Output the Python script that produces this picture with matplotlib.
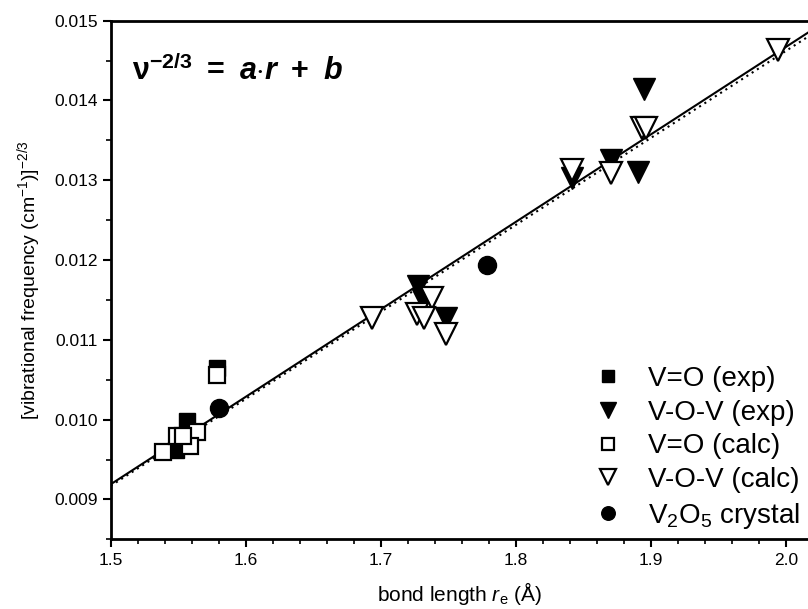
import matplotlib
matplotlib.use("Agg")
import matplotlib.pyplot as plt
import numpy as np

plt.rcParams['font.family'] = ['Liberation Sans', 'DejaVu Sans']
plt.rcParams['mathtext.fontset'] = 'custom'
plt.rcParams['mathtext.rm'] = 'Liberation Sans'
plt.rcParams['mathtext.bf'] = 'Liberation Sans:bold'
plt.rcParams['mathtext.it'] = 'Liberation Sans:italic:bold'
plt.rcParams['mathtext.sf'] = 'Liberation Sans:italic'

# data
vo_exp_r = [1.579, 1.5567, 1.5483, 1.5526]
vo_exp_y = [0.01065, 0.00998, 0.00962, 0.00973]

vov_exp_r = [1.895, 1.890, 1.870, 1.8415, 1.7277, 1.7312, 1.748]
vov_exp_y = [0.01415, 0.01311, 0.01326, 0.01303, 0.01167, 0.01150, 0.01128]

vo_calc_r = [1.579, 1.5637, 1.5385, 1.5489, 1.5587, 1.5538]
vo_calc_y = [0.01056, 0.00984, 0.00959, 0.00980, 0.00967, 0.00980]

vov_calc_r = [1.994, 1.893, 1.896, 1.8415, 1.870, 1.6937, 1.7377, 1.7266, 1.7322, 1.748]
vov_calc_y = [0.01463, 0.01366, 0.01366, 0.01313, 0.01309, 0.01128, 0.01153, 0.01132, 0.01128, 0.01107]

crystal_r = [1.7788, 1.5802]
crystal_y = [0.01194, 0.01015]

# linear fits  v^-2/3 = a*r + b
fit_solid = (0.01097, -0.007265)
fit_dotted = (0.01091, -0.007195)
r_range = np.array([1.5, 2.016])

fig = plt.figure(figsize=(8.08, 6.09), dpi=100)
ax = fig.add_axes([0.137, 0.1144, 0.863, 0.8516])

ax.plot(r_range, fit_solid[0] * r_range + fit_solid[1], color='black', lw=1.5, zorder=1)
ax.plot(r_range, fit_dotted[0] * r_range + fit_dotted[1], color='black', lw=1.5,
        ls=(0, (1, 2)), zorder=1)

ax.plot(vo_exp_r, vo_exp_y, 's', ms=11.5, color='black', mec='black', label='V=O (exp)', zorder=3)
ax.plot(vov_exp_r, vov_exp_y, 'v', ms=15.5, color='black', mec='black', label='V-O-V (exp)', zorder=3)
ax.plot(vo_calc_r, vo_calc_y, 's', ms=11.5, mfc='white', mec='black', mew=1.6, label='V=O (calc)', zorder=4)
ax.plot(vov_calc_r, vov_calc_y, 'v', ms=15.5, mfc='white', mec='black', mew=1.6, label='V-O-V (calc)', zorder=4)
ax.plot(crystal_r, crystal_y, 'o', ms=13, color='black', label='V$_2$O$_5$ crystal', zorder=5)

ax.set_xlim(1.5, 2.016)
ax.set_ylim(0.0085, 0.015)
ax.set_xticks([1.5, 1.6, 1.7, 1.8, 1.9, 2.0])
ax.set_xticks(np.arange(1.5, 2.016, 0.02), minor=True)
ax.set_yticks([0.009, 0.010, 0.011, 0.012, 0.013, 0.014, 0.015])
ax.set_yticks(np.arange(0.0085, 0.01501, 0.0005), minor=True)
ax.set_yticklabels(['0.009', '0.010', '0.011', '0.012', '0.013', '0.014', '0.015'])
ax.tick_params(which='major', direction='out', length=6, width=1.5, labelsize=12.5)
ax.tick_params(which='minor', direction='out', length=3.5, width=1.2)
for s in ['left', 'bottom', 'top']:
    ax.spines[s].set_linewidth(2)
ax.spines['right'].set_visible(False)

ax.set_xlabel(r'bond length $\mathsf{r}_\mathrm{e}$ (Å)', fontsize=15, labelpad=9)
ax.set_ylabel(r'[vibrational frequency (cm$^{-1}$)]$^{-2/3}$', fontsize=14, labelpad=8)

ax.text(0.03, 0.885, r'$\mathbf{\nu}^{\mathbf{-2/3}}\mathbf{\ =\ }a\mathbf{\cdot}r\mathbf{\ +\ }b$',
        transform=ax.transAxes, fontsize=22)

ax.legend(loc='lower right', bbox_to_anchor=(1.0, 0.0), frameon=False, fontsize=20,
          markerscale=0.75, handlelength=1.1, handletextpad=0.9, labelspacing=0.28,
          borderaxespad=0.1, borderpad=0.2)

plt.savefig('out.png', dpi=100)
